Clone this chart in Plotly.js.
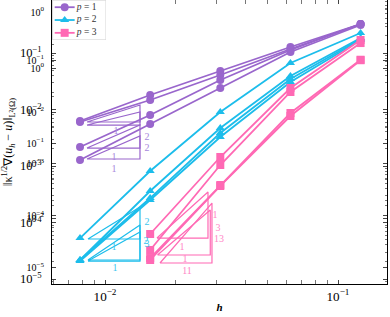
<!DOCTYPE html>
<html><head><meta charset="utf-8">
<script src="https://cdn.plot.ly/plotly-3.0.1.min.js"></script>
<style>html,body{margin:0;padding:0;background:#fff}#chart{width:390px;height:317px}</style>
</head><body><div id="chart"></div>
<script>
// mesh sizes
const h = [1/128, 1/64, 1/32, 1/16, 1/8];
const hP3 = [1/64, 1/32, 1/16, 1/8];
const seriesNames = ['<i>p</i> = 1', '<i>p</i> = 2', '<i>p</i> = 3'];
const colors = ['#9966CC', '#1CBDEB', '#FF69B4'];
const labelColors = ['#A888DC', '#3CC6EF', '#FF86C6'];
// errors
const p1Errors = [
  [6.26e-3, 0.01805, 0.0480, 0.1277, 0.3261],
  [6.01e-3, 0.01473, 0.0408, 0.1177, 0.326],
  [2.17e-3, 7.99e-3, 0.0333, 0.1130, 0.326],
  [1.277e-3, 5.54e-3, 0.0240, 0.1041, 0.313]
];
const p2Errors = [
  [5.31e-5, 8.15e-4, 9.03e-3, 0.0665, 0.2259],
  [2.17e-5, 3.61e-4, 4.70e-3, 0.0392, 0.1842],
  [2.17e-5, 2.71e-4, 3.84e-3, 0.0347, 0.1769],
  [2.08e-5, 2.50e-4, 3.26e-3, 0.0307, 0.1698]
];
const p3Errors = [
  [6.26e-5, 1.443e-3, 0.0240, 0.1700],
  [3.26e-5, 1.041e-3, 0.0204, 0.1500],
  [2.35e-5, 4.61e-4, 8.67e-3, 0.0760],
  [2.17e-5, 4.43e-4, 7.67e-3, 0.0745]
];
// slope triangles
const triP1H0 = [0.00837, 0.00837, 0.00837, 0.00837];
const triP1H1 = [0.01413, 0.01413, 0.01413, 0.01413];
const triP1Base = [6.01e-3, 5.31e-3, 2.08e-3, 1.33e-3];
const triP1Top  = [0.01201, 9.03e-3, 5.31e-3, 3.40e-3];
const triP2H0 = [0.00845, 0.00845, 0.00845];
const triP2H1 = [0.01413, 0.01413, 0.01413];
const triP2Base = [5.10e-5, 2.17e-5, 2.08e-5];
const triP2Top  = [1.88e-4, 9.03e-5, 6.79e-5];
const triP3H0 = [0.01671, 0.01722, 0.0168];
const triP3H1 = [0.02767, 0.02878, 0.0283];
const triP3Base = [5.31e-5, 1.92e-5, 2.66e-5];
const triP3Top  = [3.47e-4, 2.21e-4, 1.66e-4];
// slope labels
const lblP1Text = ['1', '2', '2', '1', '1'];
const lblP1H = [0.01115, 0.01514, 0.01514, 0.01093, 0.01093];
const lblP1E = [4.00e-3, 3.26e-3, 2.00e-3, 1.443e-3, 8.85e-4];
const lblP2Text = ['2', '2', '3', '1', '1'];
const lblP2H = [0.01514, 0.01499, 0.01514, 0.01093, 0.01103];
const lblP2E = [1.02e-4, 4.52e-5, 4.00e-5, 3.54e-5, 1.565e-5];
const lblP3Text = ['1', '3', '13', '1', '1', '11'];
const lblP3H = [0.02966, 0.03054, 0.03084, 0.02140, 0.02204, 0.02248];
const lblP3E = [1.357e-4, 7.99e-5, 5.10e-5, 3.68e-5, 2.17e-5, 1.385e-5];
// overlaid y-axis tick labels
const yTicksB = [1e-1, 1e-2, 1e-3, 1e-4, 1e-5];
const yTickTextB = ['10<sup>−1</sup>', '10<sup>−2</sup>', '10<sup>−3</sup>', '10<sup>−4</sup>', '10<sup>−5</sup>'];
const yTicksC = [1, 1e-1, 1e-2];
const yTickTextC = ['10<sup>0</sup>', '10<sup>−1</sup>', '10<sup>−2</sup>'];
const yTicksD = [1];
const yTickTextD = ['10<sup>0</sup>'];
// legend rows (inside a small auxiliary panel with 0..1 coordinates)
const legendRowY = [0.82, 0.5, 0.18];

const FONT = 'Liberation Serif, serif';
const symbols = ['circle', 'triangle-up', 'square'];
const traces = [];
const groups = [[h, p1Errors], [h, p2Errors], [hP3, p3Errors]];
groups.forEach((g, gi) => {
  g[1].forEach((ys) => {
    traces.push({
      x: g[0], y: ys, type: 'scatter', mode: 'lines+markers',
      line: {color: colors[gi], width: 1.8},
      marker: {color: colors[gi], symbol: symbols[gi], size: 8},
      showlegend: false, hoverinfo: 'skip'
    });
  });
});
const tris = [
  [triP1H0, triP1H1, triP1Base, triP1Top, 0],
  [triP2H0, triP2H1, triP2Base, triP2Top, 1],
  [triP3H0, triP3H1, triP3Base, triP3Top, 2]
];
tris.forEach(t => {
  t[2].forEach((b, i) => {
    traces.push({
      x: [t[0][i], t[1][i], t[1][i], t[0][i]],
      y: [b, b, t[3][i], b],
      type: 'scatter', mode: 'lines',
      line: {color: colors[t[4]], width: 1.2},
      showlegend: false, hoverinfo: 'skip'
    });
  });
});
const lbls = [[lblP1H, lblP1E, lblP1Text, 0], [lblP2H, lblP2E, lblP2Text, 1], [lblP3H, lblP3E, lblP3Text, 2]];
lbls.forEach(l => {
  traces.push({
    x: l[0], y: l[1], text: l[2], type: 'scatter', mode: 'text',
    textfont: {family: FONT, size: 10, color: labelColors[l[3]]},
    showlegend: false, hoverinfo: 'skip'
  });
});
// invisible anchors for overlaid axes
['y2', 'y3', 'y4'].forEach(ax => {
  traces.push({x: [0.05], y: [0.01], yaxis: ax, type: 'scatter', mode: 'markers',
    marker: {opacity: 0}, showlegend: false, hoverinfo: 'skip'});
});
// legend box and samples
traces.push({x: [0.01, 1, 1, 0.01, 0.01], y: [0.005, 0.005, 0.995, 0.995, 0.005], xaxis: 'x2', yaxis: 'y5',
  type: 'scatter', mode: 'lines', fill: 'toself', fillcolor: 'white',
  line: {color: '#d0d0d0', width: 0.8}, showlegend: false, hoverinfo: 'skip'});
seriesNames.forEach((nm, i) => {
  traces.push({x: [0.05, 0.42], y: [legendRowY[i], legendRowY[i]], xaxis: 'x2', yaxis: 'y5',
    type: 'scatter', mode: 'lines', line: {color: colors[i], width: 1.8},
    showlegend: false, hoverinfo: 'skip'});
  traces.push({x: [0.235], y: [legendRowY[i]], xaxis: 'x2', yaxis: 'y5',
    type: 'scatter', mode: 'markers', marker: {color: colors[i], symbol: symbols[i], size: 8},
    showlegend: false, hoverinfo: 'skip'});
  traces.push({x: [0.46], y: [legendRowY[i]], text: [nm], xaxis: 'x2', yaxis: 'y5',
    type: 'scatter', mode: 'text', textposition: 'middle right',
    textfont: {family: FONT, size: 9.5, color: '#333'},
    showlegend: false, hoverinfo: 'skip'});
});

const baseY = {
  type: 'log', showgrid: false, zeroline: false, ticks: 'inside', ticklen: 4,
  ticklabelstandoff: 7,
  tickfont: {size: 10, family: FONT, color: '#000'}
};
const layout = {
  width: 390, height: 317,
  margin: {l: 52, r: 3, t: 0, b: 33},
  paper_bgcolor: 'white', plot_bgcolor: 'white',
  font: {family: FONT, size: 10, color: '#000'},
  showlegend: false,
  xaxis: {type: 'log', range: [-2.2275, -0.7897], dtick: 1, exponentformat: 'power',
    ticks: 'inside', ticklen: 4, mirror: 'allticks', showline: true, linecolor: '#000', linewidth: 1.3,
    showgrid: false, zeroline: false, minor: {ticks: 'inside', ticklen: 2, tickcolor: '#777'},
    tickfont: {size: 10.5, family: FONT, color: '#000'},
    title: {text: '<b><i>h</i></b>', font: {size: 11}, standoff: 0}},
  yaxis: Object.assign({}, baseY, {range: [-5.0885, -0.062], dtick: 1, exponentformat: 'power',
    mirror: 'allticks', showline: true, linecolor: '#000', linewidth: 1.3,
    minor: {ticks: 'inside', ticklen: 2, tickcolor: '#777'},
    title: {text: '‖κ<sup>1/2</sup>∇(<i>u</i><sub><i>h</i></sub> − <i>u</i>)‖<sub>L²(Ω)</sub>', font: {size: 12}, standoff: 18}}),
  yaxis2: Object.assign({}, baseY, {overlaying: 'y', side: 'left', range: [-5.308, 0.154],
    tickmode: 'array', tickvals: yTicksB, ticktext: yTickTextB, mirror: 'ticks',
    minor: {ticks: 'inside', ticklen: 2, tickcolor: '#777'}}),
  yaxis3: Object.assign({}, baseY, {overlaying: 'y', side: 'left', range: [-2.88, 0.907],
    tickmode: 'array', tickvals: yTicksC, ticktext: yTickTextC, mirror: 'ticks'}),
  yaxis4: Object.assign({}, baseY, {overlaying: 'y', side: 'left', range: [-0.907, 0.04],
    tickmode: 'array', tickvals: yTicksD, ticktext: yTickTextD, ticks: ''}),
  xaxis2: {domain: [0, 0.161], range: [0, 1], visible: false, anchor: 'y5', fixedrange: true},
  yaxis5: {domain: [0.859, 1], range: [0, 1], visible: false, anchor: 'x2', fixedrange: true}
};
Plotly.newPlot('chart', traces, layout, {displayModeBar: false, staticPlot: true});
</script></body></html>
